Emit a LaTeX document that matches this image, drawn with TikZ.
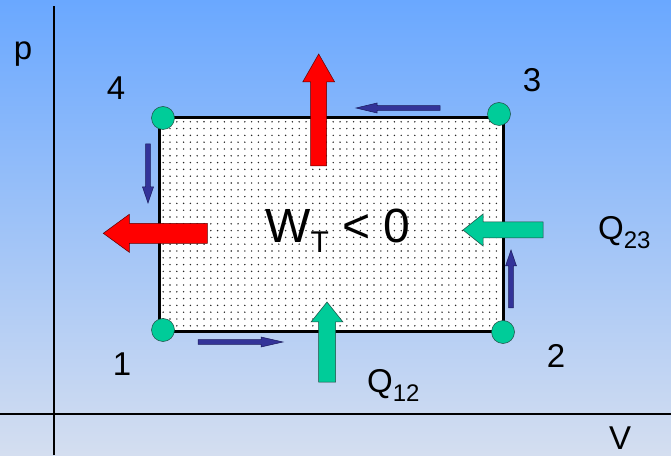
\documentclass[tikz,border=0pt]{standalone}
\usepackage{fontspec}
\setmainfont{Liberation Sans}
\usetikzlibrary{patterns.meta}

\begin{document}
\begin{tikzpicture}[
    x=1pt, y=1pt,
    axis/.style={draw=black, line width=1.1pt},
    cycle/.style={draw=black, line width=3pt},
    state/.style={circle, fill=turq, draw=ink, line width=0.5pt, minimum size=23pt, inner sep=0pt},
    lbl/.style={font=\fontsize{33}{33}\selectfont, inner sep=0pt, anchor=base},
    work/.style={fill=hot, draw=hotline, line width=0.5pt},
    heat/.style={fill=turq, draw=ink, line width=0.5pt},
    flow/.style={fill=navy, draw=navyline, line width=0.5pt}
]
\definecolor{skytop}{RGB}{106,168,255}
\definecolor{skybot}{RGB}{212,222,240}
\definecolor{turq}{HTML}{00CC99}
\definecolor{ink}{HTML}{1E4A40}
\definecolor{hot}{HTML}{FF0000}
\definecolor{hotline}{HTML}{5A0000}
\definecolor{navy}{HTML}{333399}
\definecolor{navyline}{HTML}{1A1A5C}

% background, fixes the page size
\shade[top color=skytop, bottom color=skybot] (0,0) rectangle (671,455);
\useasboundingbox (0,0) rectangle (671,455);

% p-V axes
\draw[axis] (0,41) -- (671,41);
\draw[axis] (54,0) -- (54,449);
\node[lbl] (pl) at (23,395) {p};
\node[lbl] (vl) at (620,6) {V};

% the cycle 1-2-3-4, dotted area
\fill[white] (159,123) rectangle (503,337);
\fill[pattern={Dots[distance=6.8pt, radius=0.8pt]}, pattern color=black!85] (159,123) rectangle (503,337);
\draw[cycle] (159,123) rectangle (503,337);

% work arrows (red), heat arrows (green)
\foreach \x/\y/\r/\L/\s/\h/\a in {
    318.7/289/90/112/8/16/28,
    207.3/221.7/180/104/10/19/26} {
  \draw[work, shift={(\x,\y)}, rotate=\r]
    (0,-\s) -- (\L-\a,-\s) -- (\L-\a,-\h) -- (\L,0) -- (\L-\a,\h) -- (\L-\a,\s) -- (0,\s) -- cycle;
}
\foreach \x/\y/\r/\L/\s/\h/\a in {
    543/225/180/80/8/16/20,
    327/73/90/80/8.5/16/20} {
  \draw[heat, shift={(\x,\y)}, rotate=\r]
    (0,-\s) -- (\L-\a,-\s) -- (\L-\a,-\h) -- (\L,0) -- (\L-\a,\h) -- (\L-\a,\s) -- (0,\s) -- cycle;
}

% direction of the cycle
\foreach \x/\y/\r/\L/\s/\h/\a in {
    198/113/0/85/2.4/5/22,
    511/147/90/58/2.4/5.5/16,
    440/347/180/84/2.4/5/21,
    148/311/270/59/2.4/5.5/16} {
  \draw[flow, shift={(\x,\y)}, rotate=\r]
    (0,-\s) -- (\L-\a,-\s) -- (\L-\a,-\h) -- (\L,0) -- (\L-\a,\h) -- (\L-\a,\s) -- (0,\s) -- cycle;
}

% states
\node[state] (s1) at (163,125) {};
\node[state] (s2) at (503,123) {};
\node[state] (s3) at (499,341) {};
\node[state] (s4) at (163,337) {};
\node[lbl] (n1) at (122,80) {1};
\node[lbl] (n2) at (556,88) {2};
\node[lbl] (n3) at (532,363) {3};
\node[lbl] (n4) at (116,355) {4};

% labels
\node[lbl, anchor=base west] (q23) at (598,215)
  {Q\raisebox{-9pt}{\fontsize{24}{24}\selectfont 23}};
\node[lbl, anchor=base west] (q12) at (367,63)
  {Q\raisebox{-9pt}{\fontsize{24}{24}\selectfont 12}};
\node[lbl, anchor=base west, font=\fontsize{48}{48}\selectfont] (wt) at (265,212)
  {W\raisebox{-10pt}{\fontsize{30}{30}\selectfont T} < 0};
\end{tikzpicture}
\end{document}
